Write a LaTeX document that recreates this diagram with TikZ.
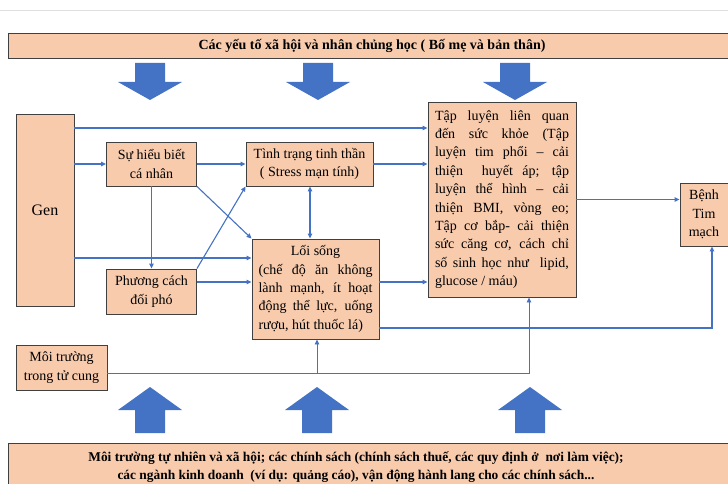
\documentclass[tikz,border=0pt]{standalone}
\usepackage{fontspec}
\setmainfont{Liberation Serif}
\usetikzlibrary{arrows.meta}
\definecolor{peach}{HTML}{F8CBAD}
\definecolor{linkblue}{HTML}{4472C4}
\definecolor{boxline}{HTML}{404040}

\begin{document}
\begin{tikzpicture}[x=1pt,y=-1pt]
  \tikzset{Box/.style={draw=boxline, fill=peach, line width=0.9pt, inner sep=0pt,
                       font=\fontsize{14}{18.4}\selectfont, align=center},
           Para/.style={Box, align=justify, inner xsep=7pt, inner ysep=0pt},
           Link/.style={draw=linkblue, line width=1.1pt, ->},
           >={Triangle[length=5pt,width=4.5pt]}}
  \useasboundingbox (0,0) rectangle (728,484);
  \clip (0,0) rectangle (728,484);
  \draw[gray!25] (0,10) -- (728,10);
  % banners
  \node[Box, minimum width=728pt, minimum height=25pt,
        font=\bfseries\fontsize{14}{16}\selectfont] (Top) at (372,45.5)
        {Các yếu tố xã hội và nhân chủng học ( Bố mẹ và bản thân)};
  \node[Box, minimum width=740pt, minimum height=60pt, anchor=north west] (Bottom) at (8,443) {};
  \node[font=\bfseries\fontsize{13.4}{18}\selectfont, align=center] (BottomText) at (356,467.5)
        {Môi trường tự nhiên và xã hội; các chính sách (chính sách thuế, các quy định ở\ \ nơi làm việc);\\
         các ngành kinh doanh\ \ (ví dụ: quảng cáo), vận động hành lang cho các chính sách...};
  % big arrows
  \foreach \x in {150,318,515}
    \fill[linkblue] (\x-15,63) -- (\x+15,63) -- (\x+15,82) -- (\x+32,82) -- (\x,100)
                    -- (\x-32,82) -- (\x-15,82) -- cycle;
  \foreach \x in {150,317,530}
    \fill[linkblue] (\x-15,433) -- (\x+15,433) -- (\x+15,410) -- (\x+32,410) -- (\x,387)
                    -- (\x-32,410) -- (\x-15,410) -- cycle;
  % boxes
  \node[Box, minimum width=58pt, minimum height=192pt, font=\fontsize{16}{18}\selectfont] (Gen) at (45,210) {Gen};
  \node[Box, minimum width=90pt, minimum height=44pt] (Hieu) at (151.5,164) {Sự hiểu biết\\cá nhân};
  \node[Box, minimum width=127pt, minimum height=44pt] (Stress) at (309.5,164) {Tình trạng tinh thần\\( Stress mạn tính)};
  \node[Box, minimum width=90pt, minimum height=45pt] (Phuong) at (151.5,291.5) {Phương cách\\đối phó};
  \node[Para, text width=114pt, inner xsep=6.5pt, minimum height=100pt] (LoiSong) at (315.5,289)
        {\hspace*{\fill}Lối sống\hspace*{\fill}\linebreak (chế độ ăn không\linebreak lành mạnh, ít hoạt\linebreak
         động thể lực, uống\linebreak rượu, hút thuốc lá)};
  \node[Box, minimum width=91pt, minimum height=45pt] (MoiTruong) at (61.5,367.5) {Môi trường\\trong tử cung};
  \node[Para, text width=134pt, minimum height=195pt] (TapLuyen) at (502,199.5)
        {Tập luyện liên quan\linebreak đến sức khỏe (Tập\linebreak luyện tim phổi – cải\linebreak
         thiện\ \ huyết áp; tập\linebreak luyện thể hình – cải\linebreak thiện BMI, vòng eo;\linebreak
         Tập cơ bắp- cải thiện\linebreak sức căng cơ, cách chỉ\linebreak số sinh học như\ \ lipid,\linebreak
         glucose / máu)};
  \node[Box, minimum width=48pt, minimum height=63pt] (Benh) at (704,214.5) {Bệnh\\Tim\\mạch};
  % connectors
  \coordinate (Knot) at (317,373);
  \draw[Link] (Gen.east |- 0,128) -- (TapLuyen.west |- 0,128);
  \draw[Link] (Gen.east |- Hieu.west) -- (Hieu.west);
  \draw[Link] (Hieu.east) -- (Stress.west);
  \draw[Link] (Stress.east) -- (Stress.east -| TapLuyen.west);
  \draw[Link] (Hieu.south) -- (Phuong.north);
  \draw[Link] (Hieu.south east) -- (LoiSong.north west);
  \draw[Link] (Phuong.north east) -- (Stress.south west);
  \draw[Link, <->] (310,0 |- Stress.south) -- (310,0 |- LoiSong.north);
  \draw[Link] (Gen.east |- 0,258) -- (LoiSong.west |- 0,258);
  \draw[Link] (Phuong.east |- 0,282) -- (LoiSong.west |- 0,282);
  \draw[Link] (LoiSong.east |- 0,282) -- (TapLuyen.west |- 0,282);
  \draw[Link] (LoiSong.east |- 0,328) -| (712,0 |- Benh.south);
  \draw[Link] (TapLuyen.east) -- (TapLuyen.east -| Benh.west);
  \draw[Link, line width=0.9pt] (MoiTruong.east |- Knot) -| (529,0 |- TapLuyen.south);
  \draw[Link, line width=0.9pt] (Knot) -- (Knot |- LoiSong.south);
\end{tikzpicture}
\end{document}
